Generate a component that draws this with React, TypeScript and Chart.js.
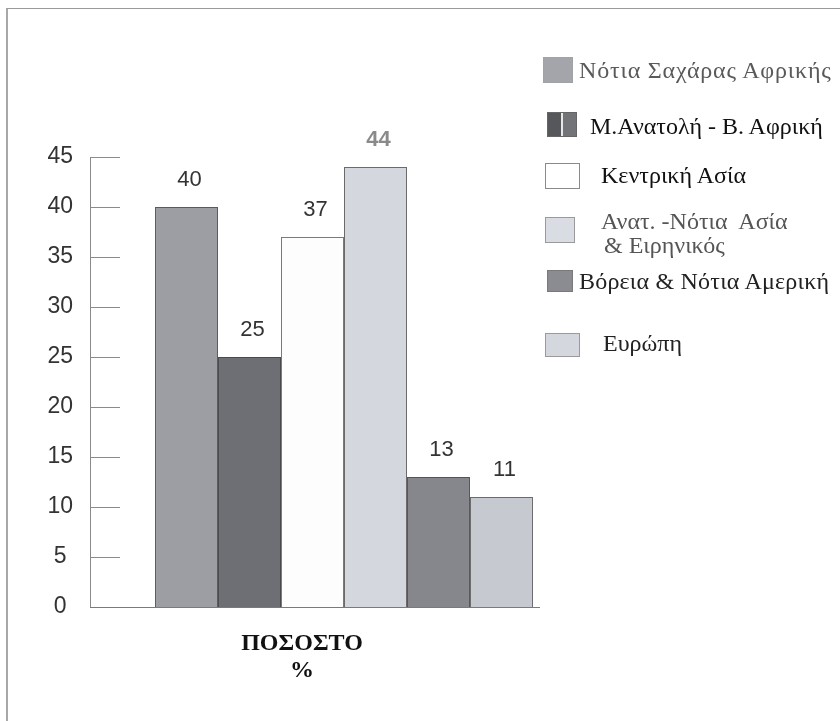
import React, { useEffect, useRef } from 'react';
import { Chart, registerables } from 'chart.js';

Chart.register(...registerables);

// ---- data ----
const categories: string[][] = [['ΠΟΣΟΣΤΟ', '%']];
const regionNames: string[] = [
  'Νότια Σαχάρας Αφρικής',
  'Μ.Ανατολή - Β. Αφρική',
  'Κεντρική Ασία',
  'Ανατ. -Νότια  Ασία & Ειρηνικός',
  'Βόρεια & Νότια Αμερική',
  'Ευρώπη',
];
const legendLines: string[][] = [
  ['Νότια Σαχάρας Αφρικής'],
  ['Μ.Ανατολή - Β. Αφρική'],
  ['Κεντρική Ασία'],
  ['Ανατ. -Νότια  Ασία', '& Ειρηνικός'],
  ['Βόρεια & Νότια Αμερική'],
  ['Ευρώπη'],
];
const percentages: number[] = [40, 25, 37, 44, 13, 11];
const yMin = 0;
const yMax = 45;
const yStep = 5;

// ---- styles ----
const barColors = ['#9c9ea3', '#6d6f74', '#fdfdfd', '#d5d7de', '#85878c', '#c7c9d0'];
const barBorders = ['#5a5a5a', '#4a4a4a', '#7a7a7a', '#6a6a6a', '#555555', '#6a6a6a'];
const valueLabelColors = ['#333333', '#333333', '#333333', '#8a8a8a', '#333333', '#333333'];

type LegendStyle = {
  boxLeft: number; boxTop: number; boxW: number; boxH: number;
  fill: string; border: string; twoTone?: boolean;
  textLeft: number; textTop: number; color: string; spacing?: number;
};
const legendStyles: LegendStyle[] = [
  { boxLeft: 543, boxTop: 57, boxW: 30, boxH: 26, fill: '#a3a5aa', border: '#a0a2a6', textLeft: 579, textTop: 58, color: '#5a5a5a', spacing: 0.8 },
  { boxLeft: 547, boxTop: 112, boxW: 30, boxH: 25, fill: '#727478', border: '#666', twoTone: true, textLeft: 590, textTop: 114, color: '#111' },
  { boxLeft: 545, boxTop: 163, boxW: 35, boxH: 26, fill: '#ffffff', border: '#8a8a8a', textLeft: 601, textTop: 163, color: '#111' },
  { boxLeft: 545, boxTop: 217, boxW: 30, boxH: 26, fill: '#dadce3', border: '#9a9a9a', textLeft: 601, textTop: 209, color: '#555' },
  { boxLeft: 547, boxTop: 270, boxW: 26, boxH: 22, fill: '#8a8c91', border: '#7a7a7a', textLeft: 579, textTop: 269, color: '#222', spacing: 0.2 },
  { boxLeft: 545, boxTop: 333, boxW: 35, boxH: 24, fill: '#d5d7de', border: '#9a9a9a', textLeft: 603, textTop: 331, color: '#222' },
];

const insideTicksPlugin = {
  id: 'insideTicks',
  afterDraw(chart: any) {
    const { ctx, chartArea } = chart;
    const y = chart.scales.y;
    ctx.save();
    ctx.strokeStyle = '#8a8a8a';
    ctx.lineWidth = 1;
    y.ticks.forEach((t: any) => {
      if (t.value === yMin) return;
      const py = Math.round(y.getPixelForValue(t.value)) + 0.5;
      ctx.beginPath();
      ctx.moveTo(chartArea.left, py);
      ctx.lineTo(chartArea.left + 30, py);
      ctx.stroke();
    });
    ctx.restore();
  },
};

const baselinePlugin = {
  id: 'baseline',
  afterDatasetsDraw(chart: any) {
    const { ctx, chartArea } = chart;
    const y = chart.scales.y;
    const last = chart.getDatasetMeta(chart.data.datasets.length - 1).data[0];
    const right = last.x + last.width / 2 + 7;
    const py = Math.round(y.getPixelForValue(yMin)) + 0.5;
    ctx.save();
    ctx.strokeStyle = '#7a7a7a';
    ctx.lineWidth = 1.2;
    ctx.beginPath();
    ctx.moveTo(chartArea.left, py);
    ctx.lineTo(right, py);
    ctx.stroke();
    ctx.restore();
  },
};

const valueLabelsPlugin = {
  id: 'valueLabels',
  afterDatasetsDraw(chart: any) {
    const { ctx } = chart;
    ctx.save();
    ctx.textAlign = 'center';
    ctx.textBaseline = 'middle';
    chart.data.datasets.forEach((ds: any, i: number) => {
      const el = chart.getDatasetMeta(i).data[0];
      ctx.fillStyle = valueLabelColors[i];
      ctx.font = (i === 3 ? 'bold ' : '') + '22px "Liberation Sans", Arial, sans-serif';
      ctx.fillText(String(ds.data[0]), el.x + 3, el.y - 27);
    });
    ctx.restore();
  },
};

export default function App() {
  const canvasRef = useRef<HTMLCanvasElement | null>(null);

  useEffect(() => {
    if (!canvasRef.current) return;
    const chart = new Chart(canvasRef.current, {
      type: 'bar',
      data: {
        labels: categories as any,
        datasets: regionNames.map((name, i) => ({
          label: name,
          data: [percentages[i]],
          backgroundColor: barColors[i],
          borderColor: barBorders[i],
          borderWidth: 1,
          categoryPercentage: 0.744,
          barPercentage: 1,
        })),
      },
      options: {
        responsive: false,
        animation: false,
        layout: { padding: { top: 157, right: 242, left: 0, bottom: 0 } },
        plugins: {
          legend: { display: false },
          tooltip: { enabled: false },
          title: { display: false },
        },
        scales: {
          x: {
            type: 'category',
            grid: { display: false, drawTicks: false },
            border: { display: false },
            ticks: {
              color: '#111',
              font: { family: '"Liberation Serif", "Times New Roman", serif', size: 24, weight: 'bold', lineHeight: 1.13 },
              padding: 23,
              labelOffset: -42,
              maxRotation: 0,
            },
            afterFit: (s: any) => { s.height = 114; },
          },
          y: {
            min: yMin,
            max: yMax,
            grid: { display: false, drawTicks: false },
            border: { display: true, color: '#8a8a8a', width: 1 },
            ticks: {
              stepSize: yStep,
              color: '#333',
              font: { family: '"Liberation Sans", Arial, sans-serif', size: 23 },
              padding: 17,
              crossAlign: 'center',
            },
            afterFit: (s: any) => { s.width = 90; },
          },
        },
      },
      plugins: [insideTicksPlugin, baselinePlugin, valueLabelsPlugin],
    } as any);
    return () => chart.destroy();
  }, []);

  return (
    <div style={{ position: 'absolute', left: 0, top: 0, width: 840, height: 721, background: '#ffffff', overflow: 'hidden' }}>
      <div style={{ position: 'absolute', left: 6, top: 8, width: 840, height: 721, borderTop: '1px solid #9a9a9a', borderLeft: '2px solid #a8a8a8' }} />
      <canvas ref={canvasRef} width={840} height={721} style={{ position: 'absolute', left: 0, top: 0, display: 'block' }} />
      {legendLines.map((lines, i) => {
        const s = legendStyles[i];
        return (
          <React.Fragment key={i}>
            <div
              style={{
                position: 'absolute', left: s.boxLeft, top: s.boxTop, width: s.boxW, height: s.boxH,
                boxSizing: 'border-box', border: `1px solid ${s.border}`,
                background: s.twoTone ? `linear-gradient(to right, #55575b 0%, #55575b 45%, #e8e8e8 45%, #e8e8e8 52%, ${s.fill} 52%, ${s.fill} 100%)` : s.fill,
              }}
            />
            <div
              style={{
                position: 'absolute', left: s.textLeft, top: s.textTop, whiteSpace: 'pre',
                fontFamily: '"Liberation Serif", "Times New Roman", serif', fontSize: 24, lineHeight: '24px',
                color: s.color, letterSpacing: s.spacing ? `${s.spacing}px` : undefined,
              }}
            >
              {lines.map((l, j) => (
                <div key={j} style={{ paddingLeft: j > 0 ? 3 : 0 }}>{l}</div>
              ))}
            </div>
          </React.Fragment>
        );
      })}
    </div>
  );
}
